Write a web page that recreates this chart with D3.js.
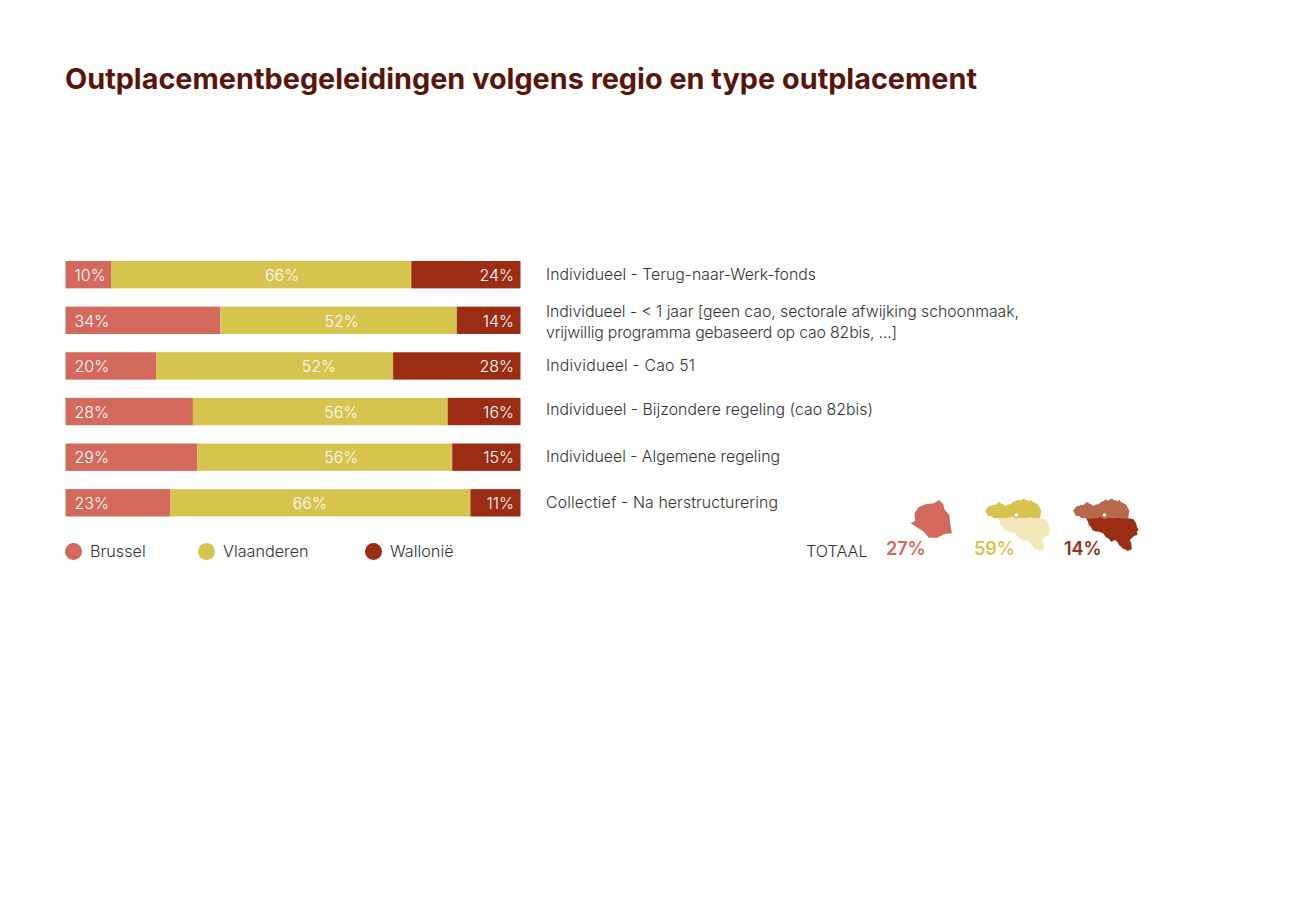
<!DOCTYPE html>
<html>
<head>
<meta charset="utf-8">
<title>Outplacementbegeleidingen</title>
<script src="https://d3js.org/d3.v7.min.js"></script>
<style>
html, body { margin: 0; padding: 0; background: #fff; }
svg { display: block; font-family: Inter, "Noto Sans", sans-serif; }
</style>
</head>
<body>
<script>
var categories = ["Individueel - Terug-naar-Werk-fonds", "Individueel - < 1 jaar", "Individueel - Cao 51", "Individueel - Bijzondere regeling (cao 82bis)", "Individueel - Algemene regeling", "Collectief - Na herstructurering"];
var brussel = [10, 34, 20, 28, 29, 23];
var vlaanderen = [66, 52, 52, 56, 56, 66];
var wallonie = [24, 14, 28, 16, 15, 11];
var regions = ["Brussel", "Vlaanderen", "Wallonië"];
var totals = [27, 59, 14];
var longLabel = ["Individueel - < 1 jaar [geen cao, sectorale afwijking schoonmaak,", "vrijwillig programma gebaseerd op cao 82bis, ...]"];

// the Vlaanderen labels are not centred on their segment in the original
var midLabelAt = [47.6, 60.7, 55.7, 60.6, 60.6, 53.7];
// the original font runs wider or narrower than ours, so fit each label line
var labelWidths = [[270], [473, 351], [149], [327], [234], [232]];

// icon outlines, in the icon's own units
var brusselShape = [[0,23.3],[4.3,20.7],[3.6,13.3],[7.6,7.3],[14.3,4.3],[22.6,3.3],[27.6,0],[31.6,4.3],[32.6,9.3],[37.6,15],[38.3,23.3],[40,33.3],[32.6,34],[26,37.7],[17.6,37.7],[12.6,31.7],[6,27.3]];
var flandersShape = [[0.3,13.2],[2,10.5],[4.3,8.2],[6,8.6],[8,7.2],[10,7.6],[12,5.8],[14.3,4.5],[15.5,6],[17,6.6],[19.7,8.5],[22,7.2],[25.3,6.5],[27,4.6],[29,3.9],[32,1.8],[33.5,3.2],[35.3,2.5],[38,0.8],[39.5,2.8],[41,2.5],[43,3.4],[45.3,2.5],[46.5,4.6],[48,5.2],[50,6.2],[52,7.5],[53,10],[54.7,13.2],[54,17],[53.7,20.8],[47,20.8],[43.7,19.8],[38.7,20.8],[33.7,20.2],[30.3,21.5],[27,19.2],[20.3,20.8],[12.7,20.8],[8,20.5],[6,18.6],[3,18.5],[1.5,16]];
var walloniaShape = [[12.7,20.8],[20.3,20.8],[27,19.2],[30.3,21.5],[33.7,20.2],[38.7,20.8],[43.7,19.8],[47,20.8],[54.3,20.8],[58.7,21.8],[60,24],[61.3,25.8],[62,29],[63.7,32.5],[62,34],[62.7,37.5],[59.5,38.2],[57,40.8],[55.3,42.5],[56.6,46],[57,51.8],[53,53.5],[50.5,51.6],[48.7,51.8],[46.8,49],[45.3,48.5],[43.5,45],[41,42.5],[37,44.2],[34.5,41],[32,39.8],[29.5,36],[25.3,34.2],[22,34],[18.7,32.5],[17.5,29.5],[15.3,27.5],[14.5,24]];

var colors = ["#d2695c", "#d6c44e", "#9b2d14"];
var width = 1300, height = 909;

var svg = d3.select("body").append("svg").attr("width", width).attr("height", height);

svg.append("text").attr("x", 65).attr("y", 89)
	.attr("font-size", 28.5).attr("font-weight", 700).attr("fill", "#5a1409")
	.attr("textLength", 912).attr("lengthAdjust", "spacingAndGlyphs")
	.text("Outplacementbegeleidingen volgens regio en type outplacement");

var x = d3.scaleLinear().domain([0, 100]).range([65.5, 520.5]);
var y = d3.scaleBand().domain(categories).range([261, 516.5]).paddingInner(0.4).paddingOuter(0);

var rows = categories.map(function(c, i) {
	return { cat: c, Brussel: brussel[i], Vlaanderen: vlaanderen[i], "Wallonië": wallonie[i] };
});
var stack = d3.stack().keys(regions)(rows);

var groups = svg.selectAll("g.serie").data(stack).enter().append("g").attr("class", "serie");
groups.attr("fill", function(d, i) { return colors[i]; });
groups.selectAll("rect").data(function(d) { return d; }).enter().append("rect")
	.attr("x", function(d) { return x(d[0]); })
	.attr("y", function(d) { return y(d.data.cat); })
	.attr("width", function(d) { return x(d[1]) - x(d[0]); })
	.attr("height", y.bandwidth());

// value labels: left, middle, right of the bar
groups.each(function(s, i) {
	d3.select(this).selectAll("text").data(s).enter().append("text")
		.attr("x", function(d, k) {
			if (i == 0) return x(d[0]) + 9;
			if (i == 1) return x(midLabelAt[k]);
			return x(d[1]) - 6.5;
		})
		.attr("y", function(d) { return y(d.data.cat) + y.bandwidth() / 2 + 6.3; })
		.attr("text-anchor", i == 0 ? "start" : i == 1 ? "middle" : "end")
		.attr("font-size", 16).attr("font-weight", 300).attr("fill", "#fff")
		.text(function(d) { return (d[1] - d[0]) + "%"; });
});

// labels right of the bars
categories.forEach(function(c, i) {
	var mid = y(c) + y.bandwidth() / 2;
	var lines = i == 1 ? longLabel : [c];
	lines.forEach(function(l, k) {
		svg.append("text").attr("font-size", 15.8).attr("font-weight", 300).attr("fill", "#333")
			.attr("x", 546)
			.attr("y", mid + 5 + (lines.length == 2 ? (k == 0 ? -8 : 12.5) : 0) + (i == 3 ? -1.5 : 0))
			.attr("textLength", labelWidths[i][k]).attr("lengthAdjust", "spacing")
			.text(l);
	});
});

// legend
var legendX = [65, 198, 365];
regions.forEach(function(r, i) {
	svg.append("circle").attr("cx", legendX[i] + 8.5).attr("cy", 551.5).attr("r", 8.5).attr("fill", colors[i]);
	svg.append("text").attr("x", legendX[i] + 25).attr("y", 556.5)
		.attr("font-size", 16.2).attr("font-weight", 300).attr("fill", "#333").text(r);
});

// TOTAAL with the small maps
svg.append("text").attr("x", 806).attr("y", 556.5).attr("font-size", 16.2).attr("font-weight", 300).attr("fill", "#333").text("TOTAAL");

var totalX = [886, 974, 1064];
totals.forEach(function(v, i) {
	svg.append("text").attr("x", totalX[i]).attr("y", 554.5)
		.attr("font-size", 18).attr("font-weight", 600).attr("fill", colors[i]).text(v + "%");
});

function drawIcon(shape, ox, oy, fill) {
	var ix = d3.scaleLinear().domain([0, 1]).range([ox, ox + 1.03]);
	var iy = d3.scaleLinear().domain([0, 1]).range([oy, oy + 1]);
	var line = d3.line().x(function(p) { return ix(p[0]); }).y(function(p) { return iy(p[1]); }).curve(d3.curveLinearClosed);
	svg.append("path").attr("d", line(shape)).attr("fill", fill);
}

drawIcon(brusselShape, 910.7, 500, colors[0]);

drawIcon(walloniaShape, 985, 497.5, "#f2e8bb");
drawIcon(flandersShape, 985, 497.5, colors[1]);
svg.append("circle").attr("cx", 1016.5).attr("cy", 515).attr("r", 1.8).attr("fill", "#fff");

drawIcon(flandersShape, 1073, 497.5, "#b9694b");
drawIcon(walloniaShape, 1073, 497.5, colors[2]);
svg.append("circle").attr("cx", 1104.5).attr("cy", 515).attr("r", 1.8).attr("fill", "#fff");
</script>
</body>
</html>
